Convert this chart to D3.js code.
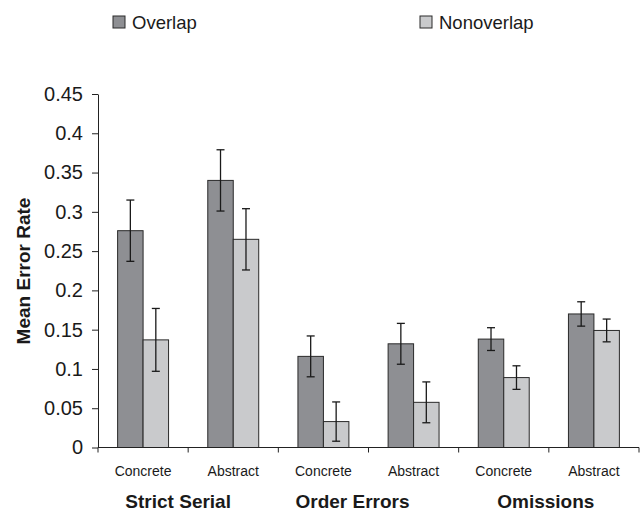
<!DOCTYPE html>
<html><head><meta charset="utf-8">
<script src="https://cdn.jsdelivr.net/npm/d3@7"></script>
<style>body{margin:0;background:#fff}svg{display:block}text{font-family:"Liberation Sans",Arial,sans-serif;fill:#1a1a1a}</style>
</head><body><svg id="c" width="641" height="512"></svg>
<script>
const conditions = ["Concrete","Abstract","Concrete","Abstract","Concrete","Abstract"];
const groups = ["Strict Serial","Order Errors","Omissions"];
const seriesNames = ["Overlap","Nonoverlap"];
const overlap = [0.276, 0.340, 0.116, 0.132, 0.138, 0.170];
const overlapErr = [0.039, 0.039, 0.026, 0.026, 0.0145, 0.0155];
const nonoverlap = [0.137, 0.265, 0.033, 0.0575, 0.089, 0.149];
const nonoverlapErr = [0.040, 0.039, 0.025, 0.026, 0.015, 0.0145];
const yTicks = [0,0.05,0.1,0.15,0.2,0.25,0.3,0.35,0.4,0.45];
const colors = ["#8e8f93","#c9cacc"];

const svg = d3.select("#c");
const L=98, R=639, T=94, B=447.5;
const idx = conditions.map((d,i)=>i);
const x0 = d3.scaleBand().domain(idx).range([L,R]).paddingInner(0.435).paddingOuter(0.2175);
const x1 = d3.scaleBand().domain(seriesNames).range([0,x0.bandwidth()]);
const y = d3.scaleLinear().domain([0,0.45]).range([B,T]);

// y axis
const ya = svg.append("g").attr("transform",`translate(${L},0)`)
  .call(d3.axisLeft(y).tickValues(yTicks).tickSize(6).tickSizeOuter(0).tickPadding(9).tickFormat(d=>String(+d.toFixed(2))));
ya.select(".domain").attr("stroke","#222");
ya.selectAll(".tick line").attr("stroke","#222");
ya.selectAll("text").style("font-size","20px").attr("fill","#1a1a1a");

// bars
const data = idx.map(i=>({i, vals:[{s:"Overlap",v:overlap[i],e:overlapErr[i]},{s:"Nonoverlap",v:nonoverlap[i],e:nonoverlapErr[i]}]}));
const g = svg.append("g").selectAll("g").data(data).join("g").attr("transform",d=>`translate(${x0(d.i)},0)`);
g.selectAll("rect").data(d=>d.vals).join("rect")
  .attr("x",d=>x1(d.s)).attr("width",x1.bandwidth()).attr("y",d=>y(d.v)).attr("height",d=>B-y(d.v))
  .attr("fill",(d,j)=>colors[j]).attr("stroke","#2a2a2a").attr("stroke-width",1);
const eb = g.selectAll("g.eb").data(d=>d.vals).join("g").attr("class","eb")
  .attr("transform",d=>`translate(${x1(d.s)+x1.bandwidth()/2},0)`).attr("stroke","#1a1a1a").attr("stroke-width",1.3);
eb.append("line").attr("y1",d=>y(d.v+d.e)).attr("y2",d=>y(d.v-d.e));
eb.append("line").attr("x1",-4).attr("x2",4).attr("y1",d=>y(d.v+d.e)).attr("y2",d=>y(d.v+d.e));
eb.append("line").attr("x1",-4).attr("x2",4).attr("y1",d=>y(d.v-d.e)).attr("y2",d=>y(d.v-d.e));

// x axis
const step = x0.step();
const xa = svg.append("g");
xa.append("line").attr("x1",L).attr("x2",R).attr("y1",B).attr("y2",B).attr("stroke","#222");
const bounds = d3.range(conditions.length+1).map(k=>L + k*step);
xa.selectAll("line.t").data(bounds).join("line").attr("class","t")
  .attr("x1",d=>d).attr("x2",d=>d).attr("y1",B).attr("y2",B+5).attr("stroke","#222");
xa.selectAll("text.c").data(idx).join("text").attr("class","c")
  .attr("x",i=>x0(i)+x0.bandwidth()/2).attr("y",476).attr("text-anchor","middle").style("font-size","14px").text(i=>conditions[i]);
const groupShift = [-10,-16,-3];
xa.selectAll("text.g").data(groups).join("text").attr("class","g")
  .attr("x",(d,k)=>bounds[2*k+1]+groupShift[k]).attr("y",508).attr("text-anchor","middle")
  .style("font-size","19px").style("font-weight","bold").text(d=>d);

// y title
svg.append("text").attr("transform",`translate(30,271) rotate(-90)`).attr("text-anchor","middle")
  .style("font-size","19px").style("font-weight","bold").text("Mean Error Rate");

// legend
const legX = [113,420];
const lg = svg.append("g").selectAll("g").data(seriesNames).join("g").attr("transform",(d,j)=>`translate(${legX[j]},16)`);
lg.append("rect").attr("width",12).attr("height",12).attr("fill",(d,j)=>colors[j]).attr("stroke","#2a2a2a");
lg.append("text").attr("x",19).attr("y",12.5).style("font-size","18.5px").text(d=>d);
</script></body></html>
